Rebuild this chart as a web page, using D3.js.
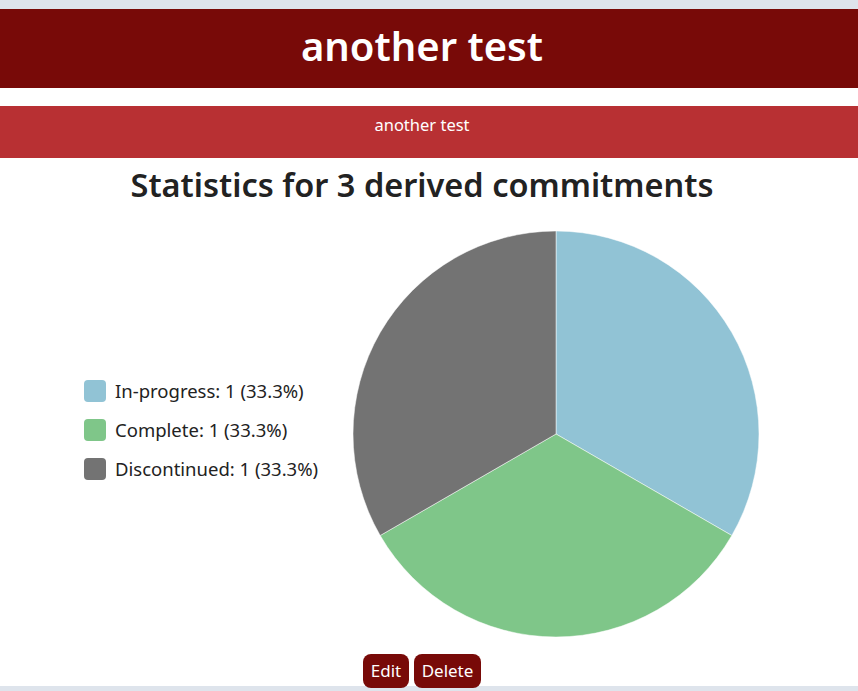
<!DOCTYPE html>
<html lang="en">
<head>
<meta charset="utf-8">
<title>another test</title>
<script src="https://cdn.jsdelivr.net/npm/d3@7"></script>
<style>
  html, body { margin: 0; padding: 0; }
  body {
    width: 858px; height: 691px; overflow: hidden;
    background: #dee4ec;
    font-family: "Noto Sans", "Open Sans", sans-serif;
  }
  #page { position: absolute; top: 9px; left: 0; width: 858px; height: 677px; background: #fff; }
  #hd {
    height: 79px; background: #780a08; color: #fff; padding-right: 14px;
    text-align: center; font-size: 40px; font-weight: 600; line-height: 74px;
  }
  #sub {
    margin-top: 18px; height: 52px; background: #b83033; color: #fff; padding-right: 14px;
    text-align: center; font-size: 16.5px; line-height: 38px;
  }
  #chart { position: absolute; top: 149px; left: 0; }
  .btn {
    position: absolute; top: 645px; height: 34px; background: #780a08; color: #fff;
    border-radius: 8px; font-size: 17px; line-height: 33px; text-align: center;
  }
</style>
</head>
<body>
<div id="page">
  <div id="hd">another test</div>
  <div id="sub">another test</div>
  <svg id="chart" width="858" height="490"></svg>
  <div class="btn" style="left:363px;width:46px;">Edit</div>
  <div class="btn" style="left:414px;width:67px;">Delete</div>
</div>
<script>
(function() {
  "use strict";

  // commitment statuses and their counts
  var statuses = ["In-progress", "Complete", "Discontinued"];
  var counts = [1, 1, 1];
  var colors = ["#91c3d5", "#7fc689", "#737373"];

  var svg = d3.select("#chart");
  var total = d3.sum(counts);

  svg.append("text")
    .attr("x", 422)
    .attr("y", 39)
    .attr("text-anchor", "middle")
    .style("font-size", "32.5px")
    .style("font-weight", "600")
    .style("fill", "#222")
    .text("Statistics for " + total + " derived commitments");

  var data = statuses.map(function(s, i) {
    return { name: s, value: counts[i] };
  });

  var color = d3.scaleOrdinal().domain(statuses).range(colors);

  /* pie, starting at 12 o'clock going clockwise */
  var pie = d3.pie().sort(null).value(function(d) { return d.value; });
  var arc = d3.arc().innerRadius(0).outerRadius(203);

  var g = svg.append("g").attr("transform", "translate(556,276)");
  g.selectAll("path")
    .data(pie(data))
    .enter().append("path")
      .attr("d", arc)
      .attr("fill", function(d) { return color(d.data.name); })
      .attr("stroke", "#fff")
      .attr("stroke-width", 0.5);

  /* legend */
  var fmt = d3.format(".1%");
  var legend = svg.append("g").attr("transform", "translate(84,222)");
  var item = legend.selectAll("g")
    .data(data)
    .enter().append("g")
      .attr("transform", function(d, i) { return "translate(0," + (i * 39) + ")"; });

  item.append("rect")
    .attr("width", 22)
    .attr("height", 22)
    .attr("rx", 4)
    .attr("fill", function(d) { return color(d.name); });

  item.append("text")
    .attr("x", 31)
    .attr("y", 17.5)
    .style("font-size", "18.5px")
    .style("fill", "#222")
    .text(function(d) { return d.name + ": " + d.value + " (" + fmt(d.value / total) + ")"; });
}());
</script>
</body>
</html>
